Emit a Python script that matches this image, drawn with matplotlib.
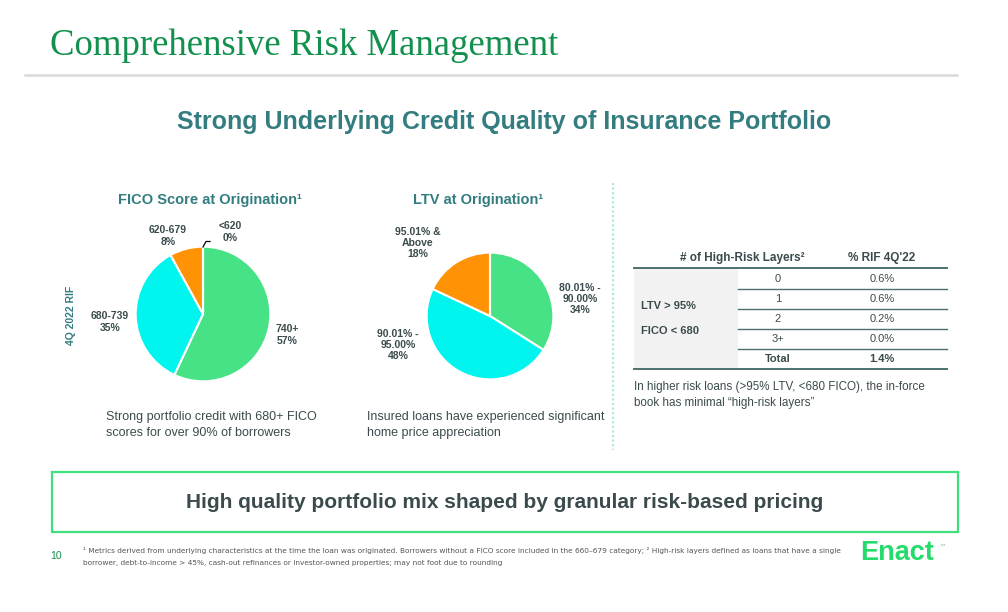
import matplotlib.pyplot as plt
from matplotlib.patches import Rectangle

W, H = 1008, 612
teal = '#337d80'
dark = '#3b4b4d'
green_c = '#48e286'
cyan_c = '#00f5ee'
orange_c = '#ff9305'

# data
fico_labels = ['740+', '680-739', '620-679', '<620']
fico_vals = [57, 35, 8, 0]
ltv_labels = ['80.01% -\n90.00%', '90.01% -\n95.00%', '95.01% &\nAbove']
ltv_vals = [34, 48, 18]
layers = ['0', '1', '2', '3+']
layer_rif = ['0.6%', '0.6%', '0.2%', '0.0%']
total_rif = '1.4%'

fig = plt.figure(figsize=(W / 100, H / 100), dpi=100)
fig.patch.set_facecolor('white')
plt.rcParams['font.family'] = ['Liberation Sans', 'DejaVu Sans']


def fx(x):
    return x / W


def fy(y):
    return 1 - y / H


def txt(x, y, s, **kw):
    fig.text(fx(x), fy(y), s, **kw)


def pie_ax(cx, cy, r):
    ax = fig.add_axes([fx(cx - r), fy(cy + r), 2 * r / W, 2 * r / H])
    return ax


# header
txt(50, 46, 'Comprehensive Risk Management', family='Liberation Serif', fontsize=26.5,
    color='#13904e', va='center')
fig.add_artist(plt.Line2D([fx(25), fx(957)], [fy(75), fy(75)], color='#d9d9d9', lw=1.8))
txt(504, 122, 'Strong Underlying Credit Quality of Insurance Portfolio', fontsize=18,
    weight='bold', color=teal, ha='center', va='center')

# FICO pie
ax1 = pie_ax(203, 314, 68)
ax1.pie(fico_vals, colors=[green_c, cyan_c, orange_c, '#999999'], startangle=90,
        counterclock=False, wedgeprops=dict(edgecolor='white', linewidth=1.5))
ax1.set_xlim(-1.01, 1.01)
ax1.set_ylim(-1.01, 1.01)
ax1.set_aspect('equal')
ax1.axis('off')
lab_kw = dict(fontsize=7.5, weight='bold', color=dark, ha='center', va='center',
              linespacing=1.15)
fico_pos = [(287, 335), (110, 322), (168, 236), (230, 232)]
for (x, y), l, v in zip(fico_pos, fico_labels, fico_vals):
    txt(x, y, '%s\n%d%%' % (l, v), **lab_kw)
fig.add_artist(plt.Line2D([fx(203), fx(206), fx(210)], [fy(247), fy(241.5), fy(241.5)],
                          color='black', lw=0.9))
txt(210, 200, 'FICO Score at Origination\u00b9', fontsize=10.5, weight='bold',
    color=teal, ha='center', va='center')
txt(71, 315, '4Q 2022 RIF', fontsize=7.5, weight='bold', color=teal, rotation=90,
    ha='center', va='center')
txt(106, 425, 'Strong portfolio credit with 680+ FICO\nscores for over 90% of borrowers',
    fontsize=9, color=dark, va='center', linespacing=1.35)

# LTV pie
ax2 = pie_ax(490, 316, 64)
ax2.pie(ltv_vals, colors=[green_c, cyan_c, orange_c], startangle=90,
        counterclock=False, wedgeprops=dict(edgecolor='white', linewidth=1.5))
ax2.set_xlim(-1.01, 1.01)
ax2.set_ylim(-1.01, 1.01)
ax2.set_aspect('equal')
ax2.axis('off')
ltv_pos = [(580, 299), (398, 345), (418, 243)]
for (x, y), l, v in zip(ltv_pos, ltv_labels, ltv_vals):
    txt(x, y, '%s\n%d%%' % (l, v), **lab_kw)
txt(478, 200, 'LTV at Origination\u00b9', fontsize=10.5, weight='bold',
    color=teal, ha='center', va='center')
txt(367, 425, 'Insured loans have experienced significant\nhome price appreciation',
    fontsize=9, color=dark, va='center', linespacing=1.35)

# dotted divider
fig.add_artist(plt.Line2D([fx(613), fx(613)], [fy(183), fy(450)], color='#a8ecd0',
                          lw=1.5, ls=(0, (1, 1.2))))

# table
tk = dict(fontsize=8, color=dark, ha='center', va='center')
txt(742, 258, '# of High-Risk Layers\u00b2', fontsize=8.5, weight='bold',
    color=dark, ha='center', va='center')
txt(882, 258, "% RIF 4Q'22", fontsize=8.5, weight='bold', color=dark, ha='center',
    va='center')
fig.add_artist(Rectangle((fx(634), fy(369)), (738 - 634) / W, 101 / H,
                         facecolor='#f2f2f2', edgecolor='none'))
fig.add_artist(plt.Line2D([fx(634), fx(947)], [fy(268), fy(268)], color='#4d7070', lw=1.4))
row_y = [279, 299, 319, 339]
for i, (ly, lr) in enumerate(zip(layers, layer_rif)):
    y = row_y[i]
    txt(778, y, ly, **tk)
    txt(882, y, lr, **tk)
    fig.add_artist(plt.Line2D([fx(738), fx(947)], [fy(y + 10), fy(y + 10)],
                              color='#4d7070', lw=1.0))
txt(778, 359, 'Total', weight='bold', **tk)
txt(882, 359, total_rif, weight='bold', **tk)
fig.add_artist(plt.Line2D([fx(634), fx(947)], [fy(369), fy(369)], color='#4d7070', lw=1.4))
txt(641, 306, 'LTV > 95%', fontsize=8, weight='bold', color=dark, va='center')
txt(641, 331, 'FICO < 680', fontsize=8, weight='bold', color=dark, va='center')
txt(634, 395, 'In higher risk loans (>95% LTV, <680 FICO), the in-force\nbook has minimal \u201chigh-risk layers\u201d',
    fontsize=8.4, color=dark, va='center', linespacing=1.35)

# bottom box
fig.add_artist(Rectangle((fx(52), fy(532)), (958 - 52) / W, 60 / H, facecolor='none',
                         edgecolor='#3ee07f', lw=1.6))
txt(505, 502, 'High quality portfolio mix shaped by granular risk-based pricing',
    fontsize=15, weight='bold', color=dark, ha='center', va='center')

# footer
txt(50, 556, '10', fontsize=7.5, color='#13904e', va='center')
foot_kw = dict(fontsize=5.3, color='#555555', va='center', family='Liberation Sans Narrow')
txt(83, 551, '\u00b9 Metrics derived from underlying characteristics at the time the loan was originated. '
    'Borrowers without a FICO score included in the 660\u2013679 category; \u00b2 High-risk layers '
    'defined as loans that have a single', **foot_kw)
txt(83, 563, 'borrower, debt-to-income > 45%, cash-out refinances or '
    'investor-owned properties; may not foot due to rounding', **foot_kw)
txt(860, 553, 'Enact', fontsize=19.5, weight='bold', color='#23dc6c', va='center')
txt(940, 546, '\u2122', fontsize=4, color='#aaaaaa', va='center')

fig.savefig('out.png', dpi=100)
